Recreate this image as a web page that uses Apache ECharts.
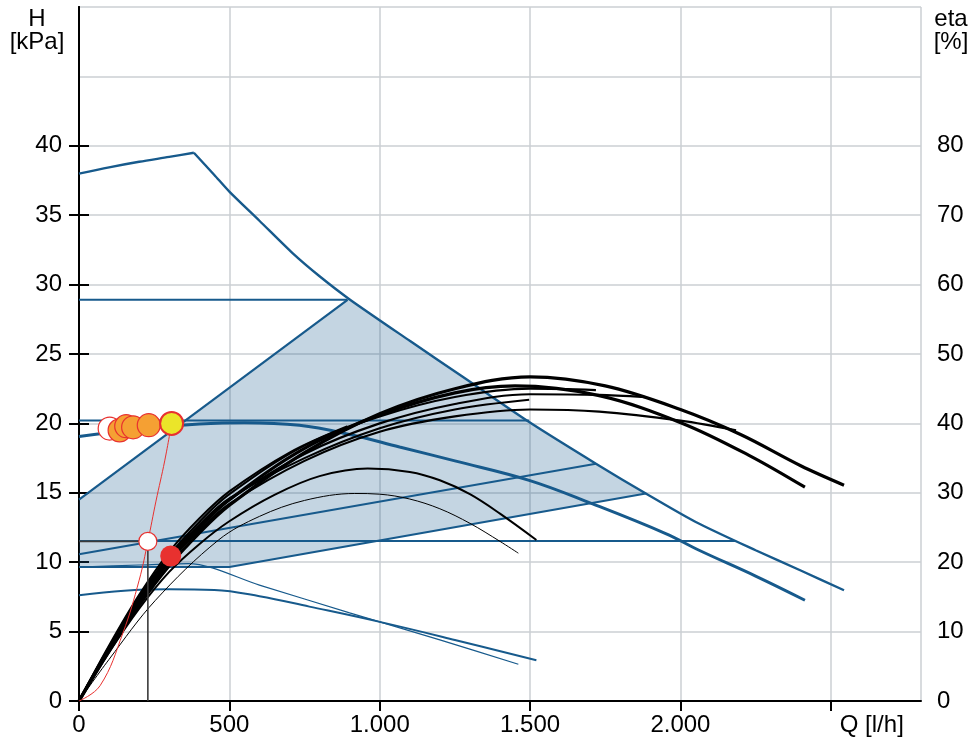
<!DOCTYPE html>
<html><head><meta charset="utf-8">
<script src="https://cdn.jsdelivr.net/npm/echarts@6/dist/echarts.min.js"></script>
<style>html,body{margin:0;padding:0;background:#fff}#c{width:972px;height:740px}</style>
</head><body><div id="c"></div>
<script>
// ---- axis ticks / labels ----
const xTickValues = [0, 500, 1000, 1500, 2000, 2500];
const xTickLabels = ['0', '500', '1.000', '1.500', '2.000', 'Q [l/h]'];
const hTickValues = [0, 5, 10, 15, 20, 25, 30, 35, 40];
const etaTickValues = [0, 10, 20, 30, 40, 50, 60, 70, 80];

// ---- pump head curves H [kPa] vs Q [l/h] ----
const hMaxRise = [[0,38],[100,38.45],[200,38.85],[300,39.2],[382,39.5]];
const hMaxFall = [[382,39.5],[450,37.9],[500,36.7],[600,34.6],[711,32.25],[800,30.6],[899,28.95],[1100,25.95],[1287,23.2],[1497,20.1],[1719,17.1],[1885,14.95],[2051,12.9],[2250,10.86],[2400,9.4],[2544,7.98]];
const hConstTop = [[0,28.9],[893,28.9]];
const hPropTop = [[0,14.5],[893,28.9]];
const hConstMid = [[0,20.2],[1497,20.2]];
const hPropMid = [[0,10.57],[1719,17.1]];
const hCurveThick = [[0,19.05],[200,19.6],[400,19.95],[550,20.05],[733,19.86],[900,19.2],[1066,18.3],[1250,17.3],[1497,15.9],[1708,14.2],[1951,12.06],[2062,10.86],[2250,9.0],[2414,7.26]];
const hConstLow = [[0,11.53],[2185,11.53]];
const hPropLow = [[0,9.65],[500,9.65],[1885,14.95]];
const hCurveThin = [[0,9.65],[200,9.8],[364,9.9],[600,8.35],[900,6.35],[1200,4.4],[1461,2.65]];
const hCurveMin = [[0,7.62],[150,7.95],[300,8.05],[450,8.0],[600,7.55],[766,6.8],[1000,5.7],[1250,4.4],[1521,2.93]];

// ---- efficiency curves eta [%] vs Q [l/h] ----
const etaA = [[0,0],[100,7.2],[200,13.8],[300,19.5],[400,24.2],[500,28.2],[750,35.8],[1000,41.4],[1250,45],[1500,46.7],[1750,45.4],[2000,42],[2200,38.4],[2400,33.9],[2544,31.1]];
const etaB = [[0,0],[100,7.5],[200,14.3],[300,20.2],[400,25],[500,29],[750,36.4],[1000,41.2],[1250,44.4],[1450,45.4],[1730,44],[2007,40],[2228,35.4],[2414,30.8]];
const etaC = [[0,0],[100,7.4],[200,14.2],[300,20],[400,24.6],[500,28.4],[750,34.6],[1000,38.8],[1250,41],[1500,42],[1730,41.7],[2000,40.4],[2185,39]];
const etaD = [[0,0],[100,7.6],[200,14.6],[300,20.5],[400,25.2],[500,29],[750,35.6],[1000,40],[1250,42.8],[1500,44.2],[1730,44.1],[1885,43.8]];
const etaE = [[0,0],[100,7.8],[200,15],[300,21],[400,25.8],[500,29.8],[750,36.8],[1000,41],[1250,43.8],[1500,45],[1719,44.8]];
const etaF = [[0,0],[100,7.7],[200,14.8],[300,20.8],[400,25.4],[500,29.2],[750,35],[1000,39.3],[1250,42],[1497,43.4]];
const etaG = [[0,0],[100,8],[200,15.3],[300,21.5],[400,26.3],[500,30.2],[700,35.8],[893,39.6]];
const etaMid = [[0,0],[100,7],[200,13.3],[300,18.6],[400,22.6],[500,25.9],[650,29.7],[800,32.4],[960,33.5],[1100,33],[1200,31.8],[1300,29.8],[1400,27],[1521,23.2]];
const etaLow = [[0,0],[100,6],[254,14.5],[464,23.2],[600,26.6],[750,28.9],[917,29.9],[1000,29.8],[1100,29.1],[1200,27.7],[1300,25.6],[1400,23],[1461,21.3]];

// ---- system curve and operating points ----
const systemCurve = [[0,0],[70,1.1],[146,4.9],[200,8.7],[229,11.5],[256,14.4],[285,17.3],[308,20]];
const openPoint = [[229,11.5]];
const etaPoint = [[305,20.9]];
const whitePoints = [[102,19.63]];
const orangePoints = [[135,19.5],[157,19.8],[180,19.72],[232,19.87]];
const yellowPoints = [[308,20.0]];

// ---- derived ----
const shadePoly = hPropTop
  .concat(hMaxFall.filter(p => p[0] > 893 && p[0] <= 1885))
  .concat(hPropLow.slice().reverse());
const crossH = [[0, openPoint[0][1]], openPoint[0]];
const crossV = [openPoint[0], [openPoint[0][0], 0]];

const BLUE = '#175a8c', RED = '#e8312f', FONT = 'Liberation Sans', FS = 24;

function ln(data, color, width, yIdx, smooth, z) {
  return { type: 'line', data, xAxisIndex: 0, yAxisIndex: yIdx, symbol: 'none', showSymbol: false,
    smooth: smooth, lineStyle: { color, width }, z, silent: true };
}
function pts(data, size, fill, bw, yIdx, z) {
  return { type: 'scatter', data, xAxisIndex: 0, yAxisIndex: yIdx, symbol: 'circle', symbolSize: size,
    itemStyle: { color: fill, borderColor: RED, borderWidth: bw, opacity: 1 }, z, silent: true };
}

const chart = echarts.init(document.getElementById('c'), null, { renderer: 'canvas' });
chart.setOption({
  animation: false,
  backgroundColor: '#fff',
  textStyle: { fontFamily: FONT },
  grid: { left: 79, right: 51, top: 7, bottom: 39, containLabel: false },
  xAxis: [
    { type: 'value', min: 0, max: 2800, interval: 500, position: 'bottom',
      axisLine: { show: true, lineStyle: { color: '#000', width: 2 } },
      axisTick: { show: true, length: 10, lineStyle: { color: '#000', width: 2 }, customValues: xTickValues },
      axisLabel: { show: true, color: '#000', fontSize: FS, fontFamily: FONT, margin: 12, customValues: xTickValues,
        formatter: v => { const i = xTickValues.indexOf(v); if (i < 0) return ''; return i === xTickValues.length - 1 ? '{q|' + xTickLabels[i] + '}' : xTickLabels[i]; },
        rich: { q: { fontSize: FS, fontFamily: FONT, color: '#000', padding: [0, 0, 0, 82] } } },
      splitLine: { show: false } },
    { type: 'value', min: 0, max: 2800, interval: 500, position: 'bottom', show: true,
      axisLine: { show: false }, axisTick: { show: false }, axisLabel: { show: false },
      splitLine: { show: true, lineStyle: { color: '#cbcfd3', width: 1.5 } } }
  ],
  yAxis: [
    { type: 'value', min: 0, max: 50, interval: 5, position: 'left',
      axisLine: { show: true, lineStyle: { color: '#000', width: 2 } },
      axisTick: { show: true, length: 10, lineStyle: { color: '#000', width: 2 }, customValues: hTickValues },
      axisLabel: { show: true, color: '#000', fontSize: FS, fontFamily: FONT, margin: 17, customValues: hTickValues,
        formatter: v => hTickValues.indexOf(v) < 0 ? '' : String(v) },
      splitLine: { show: false } },
    { type: 'value', min: 0, max: 100, interval: 10, position: 'right',
      axisLine: { show: true, lineStyle: { color: '#000', width: 2 } },
      axisTick: { show: true, length: 10, lineStyle: { color: '#000', width: 2 }, customValues: etaTickValues },
      axisLabel: { show: true, color: '#000', fontSize: FS, fontFamily: FONT, margin: 16, customValues: etaTickValues,
        formatter: v => etaTickValues.indexOf(v) < 0 ? '' : String(v) },
      splitLine: { show: false } },
    { type: 'value', min: 0, max: 50, interval: 5, position: 'left', show: true,
      axisLine: { show: false }, axisTick: { show: false }, axisLabel: { show: false },
      splitLine: { show: true, lineStyle: { color: '#cbcfd3', width: 1.5 } } }
  ],
  graphic: [
    { type: 'text', x: 37, y: 8, style: { text: 'H\n[kPa]', textAlign: 'center', textVerticalAlign: 'top', fontSize: FS, fontFamily: FONT, lineHeight: 23, fill: '#000' } },
    { type: 'text', x: 951, y: 8, style: { text: 'eta\n[%]', textAlign: 'center', textVerticalAlign: 'top', fontSize: FS, fontFamily: FONT, lineHeight: 23, fill: '#000' } }
  ],
  series: [
    { type: 'custom', coordinateSystem: 'cartesian2d', xAxisIndex: 0, yAxisIndex: 0, data: [[0, 0]], z: 1, silent: true,
      renderItem: (params, api) => ({ type: 'polygon', shape: { points: shadePoly.map(p => api.coord(p)) },
        style: { fill: 'rgba(23,90,140,0.255)' } }) },
    ln(hConstTop, BLUE, 2, 0, false, 2),
    ln(hPropTop, BLUE, 2.2, 0, false, 2),
    ln(hConstMid, BLUE, 2, 0, false, 2),
    ln(hPropMid, BLUE, 2, 0, false, 2),
    ln(hConstLow, BLUE, 2, 0, false, 2),
    ln(hPropLow, BLUE, 2, 0, false, 2),
    ln(hCurveThin, BLUE, 1.2, 0, 0.3, 2),
    ln(hCurveMin, BLUE, 2, 0, 0.4, 2),
    ln(hCurveThick, BLUE, 3, 0, 0.4, 2),
    ln(hMaxRise, BLUE, 2.4, 0, 0.3, 2),
    ln(hMaxFall, BLUE, 2.4, 0, 0.25, 2),
    ln(etaLow, '#000', 1, 1, 0.35, 3),
    ln(etaMid, '#000', 2, 1, 0.35, 3),
    ln(etaG, '#000', 2, 1, 0.35, 3),
    ln(etaF, '#000', 2, 1, 0.35, 3),
    ln(etaC, '#000', 2.2, 1, 0.35, 3),
    ln(etaD, '#000', 2.2, 1, 0.35, 3),
    ln(etaE, '#000', 2.2, 1, 0.35, 3),
    ln(etaB, '#000', 3.2, 1, 0.35, 3),
    ln(etaA, '#000', 3.2, 1, 0.35, 3),
    ln(crossH, '#3a3a3a', 1.6, 0, false, 4),
    ln(crossV, '#3a3a3a', 1.6, 0, false, 4),
    ln(systemCurve, RED, 1, 0, 0.4, 5),
    pts(whitePoints, 23, '#ffffff', 1.2, 0, 6),
    pts(orangePoints, 23, '#f5a033', 1.2, 0, 6),
    pts(yellowPoints, 23, '#ebe529', 2, 0, 6),
    pts(openPoint, 18, '#ffffff', 1.2, 0, 6),
    { type: 'scatter', data: etaPoint, xAxisIndex: 0, yAxisIndex: 1, symbol: 'circle', symbolSize: 21,
      itemStyle: { color: RED, opacity: 1 }, z: 6, silent: true }
  ]
});
</script></body></html>
